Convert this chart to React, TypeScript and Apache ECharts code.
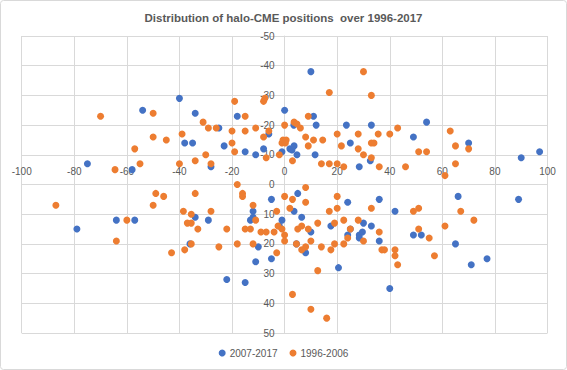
import React, { useEffect, useRef } from "react";
import * as echarts from "echarts";

const seriesNames = ["2007-2017", "1996-2006"];

const points2007: number[][] = [
  [-40, -29], [-54, -25], [-34, -24], [-38, -14], [-35, -14], [-75, -7], [-58, -5],
  [10, -38], [0, -25], [-18, -23], [11, -23], [-25, -19], [-28, -6], [12, -20], [3.5, -20],
  [-6, -17], [-23, -13], [-15, -11], [-11, -10], [-8, -12], [-1, -11], [2, -12], [2.8, -11.6],
  [3.6, -13], [4.7, -10], [11.6, -10], [23.5, -20], [25, -14], [33, -20], [28.4, -6], [32.6, -8],
  [54, -21], [49, -16], [70, -14], [90, -9], [97, -11],
  [-79, 15], [-64, 12], [-57, 12], [-34, 11], [-36, 20],
  [-5, 5], [5, 3], [3.6, 9], [6.5, 11], [-1, 12], [-2, 14], [-12, 9], [-12, 11], [-13, 12],
  [-29, 12], [-10, 21], [-11, 26], [-5, 25], [-22, 32], [-15, 33], [8, 23], [10, 16], [17.6, 14],
  [24, 6], [24, 17], [25, 15], [28.4, 17], [28.4, 18], [29.6, 16], [30, 13], [33, 14], [36, 19],
  [36, 5], [20.5, 28], [4.5, 20],
  [42, 9], [66, 4], [89, 5], [49, 17], [52, 17], [65, 20], [71, 27], [77, 25], [40, 35],
];

const points1996: number[][] = [
  [-70, -23], [-50, -24], [-31, -21], [-50, -16], [-45, -15], [-39, -17], [-57, -12], [-55, -7],
  [-64.5, -5], [-40, -7], [-34, -8],
  [30, -38], [17, -31], [33, -30], [-19, -28], [-8, -28], [-7.5, -29], [-15, -23], [9, -23], [0, -20],
  [-29, -19], [-26, -19], [-20, -18], [-15, -18], [-11, -19], [-6, -18], [-8, -16], [-20, -14],
  [-19, -11], [-30, -10], [-28, -7], [-7, -9], [-2, -10], [-1, -14], [-0.6, -15], [0.6, -15],
  [0.3, -14], [3.6, -21], [4.7, -20.4], [6, -19], [8, -16], [9, -13], [11, -15], [14.5, -15],
  [3, -8], [14, -7], [17, -7], [20, -7], [22.5, -6], [20, -17], [21.6, -13], [28, -17], [28, -12],
  [30, -10], [33, -14], [34, -14], [33, -9], [35.6, -17], [36, -6],
  [40, -17], [43, -19], [63, -18], [65, -13], [70, -12], [51, -11], [54, -11], [46, -6], [65, -7], [61, -3],
  [-87, 7], [-60, 12], [-64, 19], [-49, 3], [-46, 4], [-50, 7], [-34, 3], [-38.5, 9], [-35.5, 10],
  [-37, 13], [-35.5, 13], [-33, 15], [-35.5, 20], [-38, 22], [-43, 23],
  [-18, 0], [8, 1], [-16, 3], [-16, 4], [0, 4], [3, 5], [8, 6], [20, 4], [20, 8], [33, 8], [17, 9],
  [2, 8], [-3, 9], [-28, 9], [-12, 7], [-11, 12], [-22, 15], [-15, 15], [-13, 15], [-9, 16], [-7, 16],
  [-4, 16], [-2.5, 14], [-1, 15], [0, 17], [0, 19], [5, 15], [6.5, 14], [9, 15], [12.6, 13], [19, 13],
  [22.5, 12], [28, 12], [25, 15], [24, 18], [22.5, 20], [19, 20], [17.6, 22], [14, 21], [10, 19],
  [8, 21], [6.5, 22], [4.5, 20], [30, 19], [36, 16], [37, 22], [-18, 20], [-12, 20], [-25, 21],
  [-3, 23], [12.6, 29], [3, 37], [10, 42], [16, 45],
  [49, 9], [51, 8], [67, 9], [72, 12], [61, 14], [51, 15], [55, 18], [38, 22], [42, 22], [42, 24],
  [43, 27], [57, 24],
];

const FONT = "'Liberation Sans', Arial, sans-serif";
const GRID_COLOR = "#d9d9d9";
const TEXT_COLOR = "#595959";

const GRID_LEFT = 21.7;
const GRID_RIGHT = 19.5;
const GRID_TOP = 36;
const GRID_BOTTOM = 37;
const W = 567;
const H = 370;
// shift axes so that they cross at the origin (0, 0)
const Y_AXIS_OFFSET = -((W - GRID_LEFT - GRID_RIGHT) / 2);
const X_AXIS_OFFSET = -((H - GRID_TOP - GRID_BOTTOM) / 2);

export default function App() {
  const ref = useRef<HTMLDivElement>(null);
  useEffect(() => {
    document.body.style.margin = "0";
    if (!ref.current) return;
    const chart = echarts.init(ref.current, undefined, { renderer: "svg" });
    chart.setOption({
      animation: false,
      textStyle: { fontFamily: FONT },
      title: {
        text: "Distribution of halo-CME positions  over 1996-2017",
        left: "center",
        top: 7,
        textStyle: { fontFamily: FONT, fontSize: 11.5, fontWeight: "bold", color: TEXT_COLOR },
      },
      legend: {
        bottom: 7,
        left: "center",
        icon: "circle",
        itemWidth: 7,
        itemHeight: 7,
        itemGap: 12,
        textStyle: { fontFamily: FONT, fontSize: 10, color: TEXT_COLOR, padding: [0, 0, 0, -1] },
        data: seriesNames,
      },
      graphic: [
        {
          type: "rect",
          shape: { x: 0.5, y: 0.5, width: 566, height: 369, r: 3 },
          style: { fill: "none", stroke: GRID_COLOR, lineWidth: 1 },
          silent: true,
        },
      ],
      grid: { left: GRID_LEFT, right: GRID_RIGHT, top: GRID_TOP, bottom: GRID_BOTTOM, containLabel: false },
      xAxis: {
        type: "value",
        min: -100,
        max: 100,
        interval: 20,
        position: "top",
        offset: X_AXIS_OFFSET,
        axisLine: { show: true, onZero: false, lineStyle: { color: GRID_COLOR } },
        axisTick: { show: false },
        axisLabel: { color: TEXT_COLOR, fontFamily: FONT, fontSize: 10, margin: 8 },
        splitLine: { show: true, lineStyle: { color: GRID_COLOR } },
      },
      yAxis: {
        type: "value",
        inverse: true,
        min: -50,
        max: 50,
        interval: 10,
        position: "left",
        offset: Y_AXIS_OFFSET,
        axisLine: { show: true, onZero: false, lineStyle: { color: GRID_COLOR } },
        axisTick: { show: false },
        axisLabel: { color: TEXT_COLOR, fontFamily: FONT, fontSize: 10, margin: 10 },
        splitLine: { show: true, lineStyle: { color: GRID_COLOR } },
      },
      series: [
        {
          name: seriesNames[0],
          type: "scatter",
          symbol: "circle",
          symbolSize: 7,
          itemStyle: { color: "#4472C4", opacity: 1 },
          data: points2007,
        },
        {
          name: seriesNames[1],
          type: "scatter",
          symbol: "circle",
          symbolSize: 7,
          itemStyle: { color: "#ED7D31", opacity: 1 },
          data: points1996,
        },
      ],
    });
    return () => chart.dispose();
  }, []);
  return <div ref={ref} style={{ width: W, height: H }} />;
}
